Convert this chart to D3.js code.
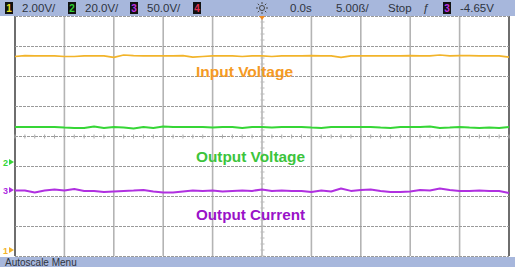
<!DOCTYPE html>
<html>
<head>
<meta charset="utf-8">
<script src="https://cdn.jsdelivr.net/npm/d3@7"></script>
<style>
  body { margin: 0; background: #fff; }
  svg { display: block; }
</style>
</head>
<body>
<div id="scope"></div>
<script>
// scope screen, values in divisions (centre = 0)
const svgWidth = 515;
const svgHeight = 267;

const plot = { left: 15, right: 509, top: 16, bottom: 256 };

// 5 us/div, 10 divisions
const timeUs = d3.range(-25, 26, 1);

const ch1Input = [
	2.65, 2.68, 2.67, 2.67, 2.67, 2.65, 2.65, 2.67, 2.67, 2.67,
	2.62, 2.70, 2.68, 2.67, 2.67, 2.67, 2.67, 2.68, 2.63, 2.65,
	2.67, 2.67, 2.67, 2.65, 2.67, 2.67, 2.65, 2.67, 2.67, 2.67,
	2.68, 2.67, 2.67, 2.62, 2.67, 2.67, 2.67, 2.67, 2.67, 2.67,
	2.68, 2.67, 2.67, 2.70, 2.67, 2.68, 2.68, 2.67, 2.67, 2.67,
	2.63
];
const ch2Output = [
	0.30, 0.30, 0.30, 0.30, 0.30, 0.28, 0.27, 0.27, 0.32, 0.27,
	0.30, 0.28, 0.25, 0.30, 0.27, 0.32, 0.30, 0.30, 0.30, 0.30,
	0.28, 0.30, 0.30, 0.27, 0.30, 0.30, 0.28, 0.30, 0.30, 0.30,
	0.28, 0.27, 0.30, 0.30, 0.30, 0.30, 0.30, 0.28, 0.27, 0.30,
	0.30, 0.30, 0.32, 0.27, 0.28, 0.30, 0.28, 0.27, 0.28, 0.27,
	0.30
];
const ch3Current = [
	-1.82, -1.82, -1.88, -1.82, -1.78, -1.82, -1.77, -1.83, -1.83, -1.87,
	-1.85, -1.83, -1.82, -1.80, -1.85, -1.88, -1.88, -1.85, -1.82, -1.83,
	-1.82, -1.85, -1.83, -1.82, -1.83, -1.78, -1.83, -1.82, -1.83, -1.83,
	-1.87, -1.82, -1.85, -1.75, -1.83, -1.80, -1.78, -1.83, -1.87, -1.87,
	-1.85, -1.80, -1.82, -1.75, -1.80, -1.83, -1.83, -1.82, -1.83, -1.83,
	-1.90
];

const traceNames = ["Input Voltage", "Output Voltage", "Output Current"];
const traceColors = ["#f2b42a", "#36d636", "#b030e0"];
const labelColors = ["#f59a24", "#3cc43c", "#9a12c8"];
const labelDivs = [2.13, -0.70, -2.63];

const chScales = ["2.00V/", "20.0V/", "50.0V/"];
const chBoxColors = ["#e8e020", "#30d030", "#c030e0", "#e03050"];
const gndDivs = [-3.8, -0.87, -1.8];

const svg = d3.select("#scope")
	.append("svg")
	.attr("width", svgWidth)
	.attr("height", svgHeight)
	.style("font-family", "'Liberation Sans', Arial, sans-serif");

const x = d3.scaleLinear().domain([-25, 25]).range([plot.left, plot.right]);
const y = d3.scaleLinear().domain([-4, 4]).range([plot.bottom, plot.top]);

// graticule
const grid = svg.append("g");
grid.selectAll("line.v")
	.data(d3.range(-25, 26, 5))
	.enter()
	.append("line")
	.attr("x1", d => x(d)).attr("x2", d => x(d))
	.attr("y1", plot.top).attr("y2", plot.bottom)
	.attr("stroke", (d, i) => (i === 0 || i === 10) ? "#6e6e6e" : "#b4b4b4")
	.attr("stroke-width", (d, i) => (i === 0 || i === 10) ? 2 : 1.6);

grid.selectAll("line.h")
	.data(d3.range(-4, 5, 1))
	.enter()
	.append("line")
	.attr("x1", plot.left).attr("x2", plot.right)
	.attr("y1", d => y(d) + 0.5).attr("y2", d => y(d) + 0.5)
	.attr("stroke", "#9a9a9a")
	.attr("stroke-width", 1)
	.attr("stroke-dasharray", "3,1");

// minor ticks on the centre lines
grid.selectAll("line.mt")
	.data(d3.range(-25, 25.1, 1))
	.enter()
	.append("line")
	.attr("x1", d => x(d)).attr("x2", d => x(d))
	.attr("y1", y(0) - 1.5).attr("y2", y(0) + 2.5)
	.attr("stroke", "#aaa");
grid.selectAll("line.mty")
	.data(d3.range(-4, 4.01, 0.2))
	.enter()
	.append("line")
	.attr("x1", x(0) - 1.5).attr("x2", x(0) + 2.5)
	.attr("y1", d => y(d)).attr("y2", d => y(d))
	.attr("stroke", "#bbb");

// traces
const line = d3.line()
	.x((d, i) => x(timeUs[i]))
	.y(d => y(d));

[ch1Input, ch2Output, ch3Current].forEach((series, k) => {
	svg.append("path")
		.datum(series)
		.attr("fill", "none")
		.attr("stroke", traceColors[k])
		.attr("stroke-width", k === 0 ? 1.6 : 2)
		.attr("stroke-linejoin", "round")
		.attr("d", line);
});

// trace labels
svg.selectAll("text.lbl")
	.data(traceNames)
	.enter()
	.append("text")
	.attr("x", 196)
	.attr("y", (d, i) => y(labelDivs[i]) + 5)
	.attr("fill", (d, i) => labelColors[i])
	.attr("font-size", 14)
	.attr("font-weight", "bold")
	.attr("textLength", (d, i) => i === 0 ? 97 : 109)
	.attr("lengthAdjust", "spacingAndGlyphs")
	.text(d => d);

// ground markers on the left edge
const markers = svg.append("g");
gndDivs.forEach((g, k) => {
	const yy = y(g);
	markers.append("text")
		.attr("x", 3).attr("y", yy + 3.5)
		.attr("font-size", 9)
		.attr("font-weight", "bold")
		.attr("fill", traceColors[k])
		.text(k + 1);
	markers.append("path")
		.attr("d", `M9,${yy - 3}L14,${yy}L9,${yy + 3}Z`)
		.attr("fill", traceColors[k]);
});

// trigger position marker
svg.append("path")
	.attr("d", `M${x(0) - 3},16L${x(0) + 3},16L${x(0)},20Z`)
	.attr("fill", "#f08a20");

// top status bar
const bar = svg.append("g");
bar.append("rect")
	.attr("x", 0).attr("y", 0)
	.attr("width", svgWidth).attr("height", 16)
	.attr("fill", "#a7b7dc");

const boxX = [5, 68, 130, 193];
boxX.forEach((bx, i) => {
	bar.append("rect")
		.attr("x", bx).attr("y", 2)
		.attr("width", 8).attr("height", 12)
		.attr("fill", "#111");
	bar.append("text")
		.attr("x", bx + 4).attr("y", 12)
		.attr("text-anchor", "middle")
		.attr("font-size", 10).attr("font-weight", "bold")
		.attr("fill", chBoxColors[i])
		.text(i + 1);
});
chScales.forEach((s, i) => {
	bar.append("text")
		.attr("x", boxX[i] + 17).attr("y", 12)
		.attr("font-size", 11.5)
		.attr("fill", "#2e3440")
		.text(s);
});

// sun icon
const sun = bar.append("g").attr("transform", `translate(${x(0)},8)`);
sun.append("circle").attr("r", 2.5).attr("fill", "none").attr("stroke", "#444");
d3.range(0, 360, 45).forEach(a => {
	const r = a * Math.PI / 180;
	sun.append("line")
		.attr("x1", Math.cos(r) * 4).attr("y1", Math.sin(r) * 4)
		.attr("x2", Math.cos(r) * 6).attr("y2", Math.sin(r) * 6)
		.attr("stroke", "#444");
});

const statusText = [
	{ t: "0.0s", x: 290 },
	{ t: "5.00ß/", x: 336 },
	{ t: "Stop", x: 388 },
	{ t: "ƒ", x: 423 },
	{ t: "-4.65V", x: 460 }
];
statusText.forEach(s => {
	bar.append("text")
		.attr("x", s.x).attr("y", 12)
		.attr("font-size", 11.5)
		.attr("fill", "#2e3440")
		.text(s.t);
});
bar.append("rect")
	.attr("x", 443).attr("y", 2)
	.attr("width", 8).attr("height", 12)
	.attr("fill", "#111");
bar.append("text")
	.attr("x", 447).attr("y", 12)
	.attr("text-anchor", "middle")
	.attr("font-size", 10).attr("font-weight", "bold")
	.attr("fill", chBoxColors[2])
	.text("3");

// bottom softkey bar
svg.append("rect")
	.attr("x", 0).attr("y", 257)
	.attr("width", svgWidth).attr("height", 10)
	.attr("fill", "#a7b7dc");
svg.append("text")
	.attr("x", 5).attr("y", 265.5)
	.attr("font-size", 10)
	.attr("fill", "#2e3440")
	.text("Autoscale Menu");
</script>
</body>
</html>
